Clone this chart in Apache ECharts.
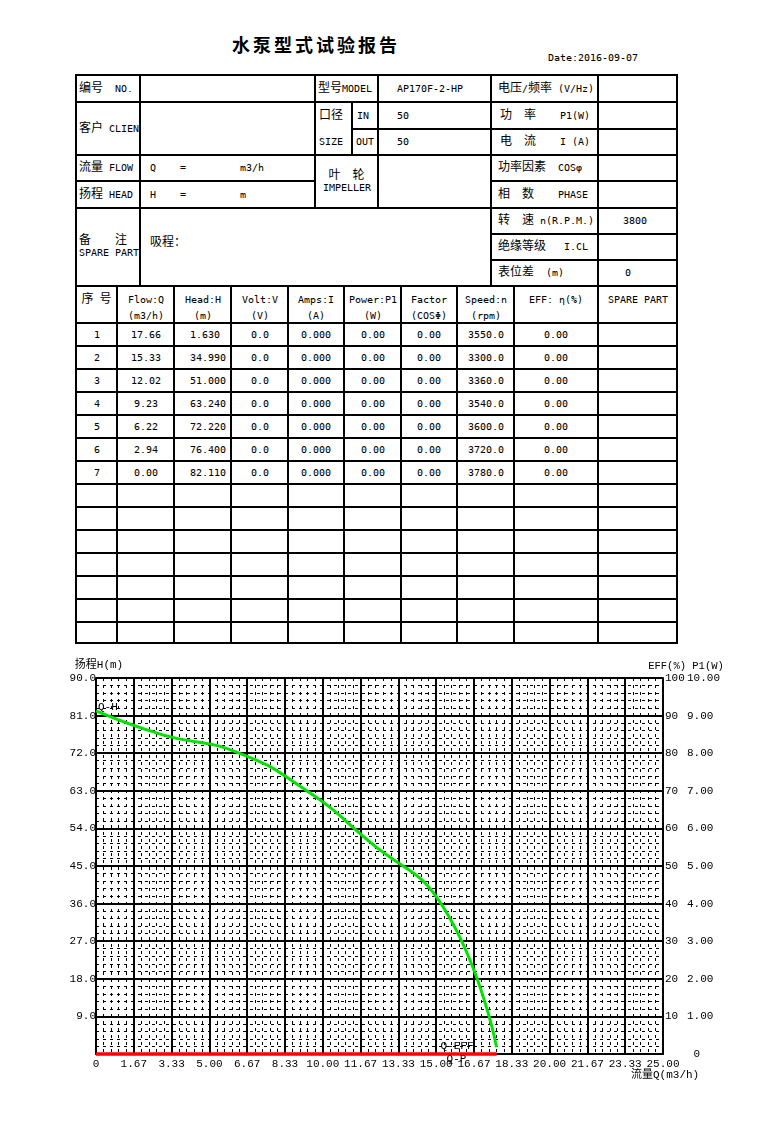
<!DOCTYPE html>
<html>
<head>
<meta charset="utf-8">
<script src="https://cdn.jsdelivr.net/npm/echarts@6/dist/echarts.min.js"></script>
<style>
  @font-face {
    font-family: "RptMono";
    src: local("DejaVu Sans Mono"), local("DejaVuSansMono"), local("Liberation Mono");
    size-adjust: 84%;
  }
  body { margin: 0; background: #fff; color: #000; font-family: "RptMono", "Noto Sans CJK SC", monospace; font-size: 12px; }
  #page { position: relative; width: 769px; height: 1129px; overflow: hidden; }
  .title { position: absolute; left: 0; width: 632px; top: 31px; text-align: center; font: bold 18px "Noto Sans CJK SC"; letter-spacing: 3px; }
  .date { position: absolute; left: 548px; top: 52px; }
  .form { position: absolute; display: grid; gap: 2px; padding: 2px; background: #000; box-sizing: border-box; }
  .form > div { background: #fff; display: flex; align-items: center; white-space: pre; overflow: hidden; line-height: 12px; }
  #top { left: 75px; top: 74px; width: 603px; height: 213px;
         grid-template-columns: 62px 173px 35px 24px 111px 105px 77px;
         grid-template-rows: 25px 25px 24px 24px 25px 24px 24px 24px; }
  #data { left: 75px; top: 285px; width: 603px; height: 359px;
          grid-template-columns: 39px 55px 55px 55px 54px 55px 54px 55px 82px 77px;
          grid-template-rows: 35px repeat(13, 21px) 19px; }
  .l { padding-left: 2px; }
  .lab { padding-left: 6px; }
  .v { padding-left: 18px; }
  .c { justify-content: center; text-align: center; }
  .two { flex-direction: column; align-items: flex-start !important; justify-content: center; }
  #data > div.hd { display: block; text-align: center; padding-top: 5px; line-height: 16px; }
  #data > div.cell { justify-content: center; }
  #data > div.left { justify-content: flex-start; padding-left: 15px; }
  #chart { position: absolute; left: 0; top: 640px; width: 769px; height: 460px; }
</style>
</head>
<body>
<div id="page">
  <div class="title">水泵型式试验报告</div>
  <div class="date">Date:2016-09-07</div>

  <div class="form" id="top">
    <div class="l" style="grid-area:1/1/2/2">编号  NO.</div>
    <div style="grid-area:1/2/2/3"></div>
    <div class="l" style="grid-area:1/3/2/5">型号MODEL</div>
    <div class="v" style="grid-area:1/5/2/6">AP170F-2-HP</div>
    <div class="lab" style="grid-area:1/6/2/7">电压/频率 (V/Hz)</div>
    <div style="grid-area:1/7/2/8"></div>

    <div class="l" style="grid-area:2/1/4/2">客户 CLIEN</div>
    <div style="grid-area:2/2/4/3"></div>
    <div class="l two" style="grid-area:2/3/4/4; padding-left:3px; line-height:26px;">口径<br>SIZE</div>
    <div class="l" style="grid-area:2/4/3/5; padding-left:4px;">IN</div>
    <div class="v" style="grid-area:2/5/3/6">50</div>
    <div class="lab" style="grid-area:2/6/3/7; padding-left:8px;">功  率    P1(W)</div>
    <div style="grid-area:2/7/3/8"></div>
    <div class="l" style="grid-area:3/4/4/5; padding-left:3px;">OUT</div>
    <div class="v" style="grid-area:3/5/4/6">50</div>
    <div class="lab" style="grid-area:3/6/4/7; padding-left:8px;">电  流    I (A)</div>
    <div style="grid-area:3/7/4/8"></div>

    <div class="l" style="grid-area:4/1/5/2">流量 FLOW</div>
    <div class="l" style="grid-area:4/2/5/3; padding-left:9px;">Q    =         m3/h</div>
    <div class="c" style="grid-area:4/3/6/5">叶  轮<br>IMPELLER</div>
    <div style="grid-area:4/5/6/6"></div>
    <div class="lab" style="grid-area:4/6/5/7">功率因素  COSφ</div>
    <div style="grid-area:4/7/5/8"></div>
    <div class="l" style="grid-area:5/1/6/2">扬程 HEAD</div>
    <div class="l" style="grid-area:5/2/6/3; padding-left:9px;">H    =         m</div>
    <div class="lab" style="grid-area:5/6/6/7">相  数    PHASE</div>
    <div style="grid-area:5/7/6/8"></div>

    <div class="l" style="grid-area:6/1/9/2">备    注<br>SPARE PART</div>
    <div class="l" style="grid-area:6/2/9/6; padding-left:9px; padding-bottom:8px;">吸程：</div>
    <div class="lab" style="grid-area:6/6/7/7">转  速 n(R.P.M.)</div>
    <div class="l" style="grid-area:6/7/7/8; padding-left:24px;">3800</div>
    <div class="lab" style="grid-area:7/6/8/7">绝缘等级   I.CL</div>
    <div style="grid-area:7/7/8/8"></div>
    <div class="lab" style="grid-area:8/6/9/7">表位差  (m)</div>
    <div class="l" style="grid-area:8/7/9/8; padding-left:26px;">0</div>
  </div>

  <div class="form" id="data"></div>
  <div id="chart"></div>
</div>

<script>
// 测试数据
var rowNo = [1, 2, 3, 4, 5, 6, 7]
var flowQ = [17.66, 15.33, 12.02, 9.23, 6.22, 2.94, 0.00]
var headH = [1.630, 34.990, 51.000, 63.240, 72.220, 76.400, 82.110]
var voltV = [0, 0, 0, 0, 0, 0, 0]
var ampsI = [0, 0, 0, 0, 0, 0, 0]
var powerP1 = [0, 0, 0, 0, 0, 0, 0]
var factorCos = [0, 0, 0, 0, 0, 0, 0]
var speedN = [3550, 3300, 3360, 3540, 3600, 3720, 3780]
var effPct = [0, 0, 0, 0, 0, 0, 0]
var emptyRows = 7

var headers = ['序 号', 'Flow:Q\n(m3/h)', 'Head:H\n(m)', 'Volt:V\n(V)', 'Amps:I\n(A)',
  'Power:P1\n(W)', 'Factor\n(COSΦ)', 'Speed:n\n(rpm)', 'EFF: η(%)', 'SPARE PART']

// 坐标轴刻度
var qMax = 25, qSplit = 15
var hMax = 90, hStep = 9
var eMax = 100, eStep = 10

// 表格
var table = document.getElementById('data')
function addCell(text, cls) {
  var d = document.createElement('div')
  d.className = cls
  d.textContent = text
  table.appendChild(d)
}
headers.forEach(function (h) { addCell(h, 'hd') })
rowNo.forEach(function (n, i) {
  addCell(String(n), 'cell')
  addCell(flowQ[i].toFixed(2), 'cell')
  addCell(headH[i].toFixed(3), 'left')
  addCell(voltV[i].toFixed(1), 'cell')
  addCell(ampsI[i].toFixed(3), 'cell')
  addCell(powerP1[i].toFixed(2), 'cell')
  addCell(factorCos[i].toFixed(2), 'cell')
  addCell(speedN[i].toFixed(1), 'cell')
  addCell(effPct[i].toFixed(2), 'cell')
  addCell('', 'cell')
})
for (var r = 0; r < emptyRows; r++) {
  headers.forEach(function () { addCell('', 'cell') })
}

// 曲线图
var FONT = '"Liberation Mono", "Noto Sans CJK SC", monospace'
var myChart = echarts.init(document.getElementById('chart'))

var majorLine = { show: true, lineStyle: { color: '#000', width: 2 } }
var minorLine = { show: true, lineStyle: { color: '#000', width: 1, type: [3, 4] } }

var qh = flowQ.map(function (q, i) { return [q, headH[i]] })
var qp = flowQ.map(function (q, i) { return [q, powerP1[i] * 10] }).reverse()
var qe = flowQ.map(function (q, i) { return [q, effPct[i]] }).reverse()

var option = {
  animation: false,
  textStyle: { fontFamily: FONT, color: '#000' },
  grid: { left: 96, top: 38, width: 567, height: 376, outerBoundsMode: 'none' },
  xAxis: {
    type: 'value', min: 0, max: qMax, interval: qMax / qSplit,
    name: '流量Q(m3/h)', nameLocation: 'end', nameGap: -32, nameMoveOverlap: false,
    nameTextStyle: { color: '#000', fontSize: 11, fontFamily: FONT,
      align: 'left', verticalAlign: 'top', padding: [16, 0, 0, 0] },
    axisLine: { show: true, onZero: false, lineStyle: { color: '#000', width: 2 } },
    axisTick: { show: false },
    axisLabel: { color: '#000', fontSize: 11, fontFamily: FONT, margin: 5,
      formatter: function (v) { return v === 0 ? '0' : v.toFixed(2) } },
    splitLine: majorLine,
    minorTick: { show: false, splitNumber: 5 },
    minorSplitLine: minorLine,
  },
  yAxis: [
    {
      type: 'value', min: 0, max: hMax, interval: hStep,
      name: '扬程H(m)', nameLocation: 'end', nameGap: 7,
      nameTextStyle: { color: '#000', fontSize: 11, fontFamily: FONT, padding: [0, 0, 0, 6] },
      axisLine: { show: true, lineStyle: { color: '#000', width: 2 } },
      axisTick: { show: false },
      axisLabel: { color: '#000', fontSize: 11, fontFamily: FONT, margin: 0, showMinLabel: false,
        formatter: function (v) { return v.toFixed(1) } },
      splitLine: majorLine,
      minorTick: { show: false, splitNumber: 5 },
      minorSplitLine: minorLine,
    },
    {
      type: 'value', min: 0, max: eMax, interval: eStep, position: 'right',
      name: 'EFF(%) P1(W)', nameLocation: 'end', nameGap: 7,
      nameTextStyle: { color: '#000', fontSize: 10.5, fontFamily: FONT, padding: [0, 0, 0, 46] },
      axisLine: { show: true, lineStyle: { color: '#000', width: 2 } },
      axisTick: { show: false },
      splitLine: { show: false },
      axisLabel: {
        color: '#000', fontSize: 11, fontFamily: FONT, margin: 2,
        formatter: function (v) {
          if (v === 0) return '{z|0}'
          return '{a|' + v + '}{b|' + (v / 10).toFixed(2) + '}'
        },
        rich: {
          a: { width: 22, fontSize: 11, fontFamily: FONT, color: '#000' },
          b: { fontSize: 11, fontFamily: FONT, color: '#000' },
          z: { width: 35, align: 'right', fontSize: 11, fontFamily: FONT, color: '#000' },
        },
      },
    },
  ],
  series: [
    {
      name: 'Q-H', type: 'line', yAxisIndex: 0, data: qh,
      smooth: 0.5, symbol: 'none', clip: false, z: 5,
      lineStyle: { color: '#00e400', width: 3 },
      endLabel: { show: true, formatter: 'Q-H', color: '#000', fontSize: 11, fontFamily: FONT,
        distance: 0, offset: [2, -4] },
    },
    {
      name: 'Q-P', type: 'line', yAxisIndex: 1, data: qp,
      symbol: 'none', clip: false, z: 6,
      lineStyle: { color: '#ff0000', width: 3 },
      endLabel: { show: true, formatter: 'Q-P', color: '#000', fontSize: 11, fontFamily: FONT,
        distance: 0, offset: [-50, 5] },
    },
    {
      name: 'Q-EFF', type: 'line', yAxisIndex: 1, data: qe,
      symbol: 'none', clip: false, z: 7,
      lineStyle: { color: '#ff0000', width: 3 },
      endLabel: { show: true, formatter: 'Q-EFF', color: '#000', fontSize: 11, fontFamily: FONT,
        distance: 0, offset: [-56, -8] },
    },
  ],
}

myChart.setOption(option)
</script>
</body>
</html>
